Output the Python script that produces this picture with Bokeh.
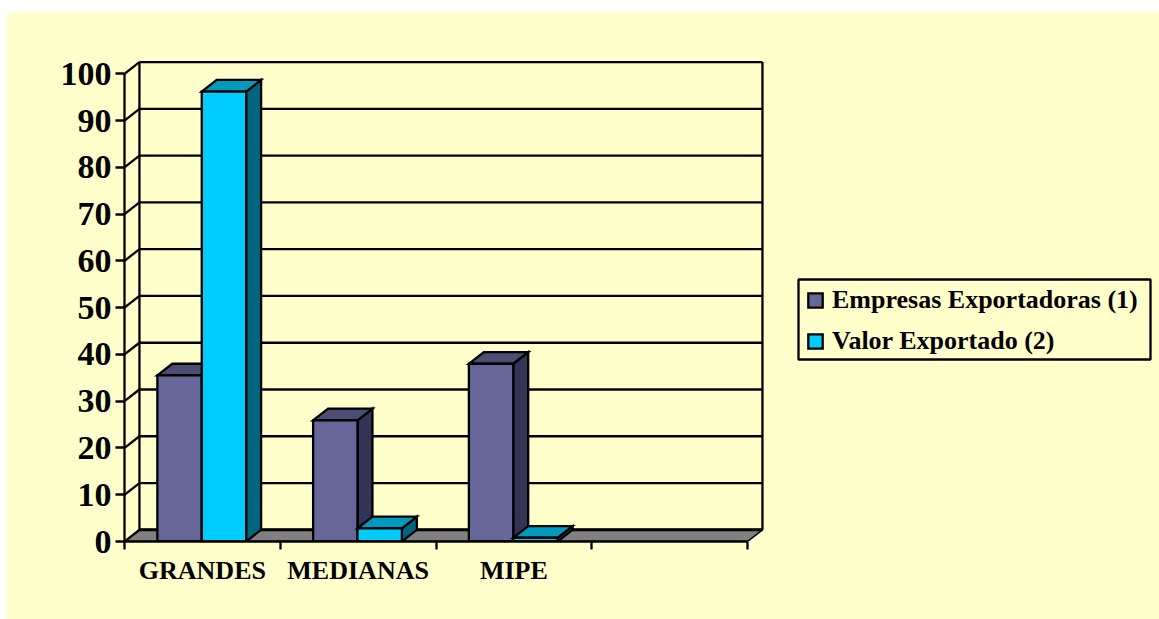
from bokeh.plotting import figure
from bokeh.models import Range1d, FixedTicker, Legend, LegendItem, BoxAnnotation
from bokeh.embed import file_html
from bokeh.resources import INLINE

categories = ["GRANDES", "MEDIANAS", "MIPE"]
empresas = [35.5, 25.9, 38.0]
valor = [96.2, 2.8, 0.8]
y_ticks = [0, 10, 20, 30, 40, 50, 60, 70, 80, 90, 100]
series_names = ["Empresas Exportadoras (1)", "Valor Exportado (2)"]

DX, DY = 0.096, 2.5          # depth of the 3-D box in data units
BAR = 0.285
N_SLOTS = 4
LW = 2.3
YELLOW = "#FFFFCC"
FONT = "Liberation Serif"

p = figure(width=1153, height=608, output_backend="svg", toolbar_location=None,
           x_range=Range1d(0, 1035 / 155.75), y_range=Range1d(0, 482 / 4.677),
           frame_width=1035, frame_height=482,
           min_border_left=118, min_border_right=0, min_border_top=48, min_border_bottom=78,
           background_fill_color=YELLOW, border_fill_color=YELLOW, outline_line_color=None)
p.margin = (11, 0, 0, 6)
p.grid.visible = False

# floor
p.patch([0, N_SLOTS, N_SLOTS + DX, DX], [0, 0, DY, DY], fill_color="#808080",
        line_color="black", line_width=1.5)
# back wall lines
p.segment([DX] * len(y_ticks), [t + DY for t in y_ticks],
          [N_SLOTS + DX] * len(y_ticks), [t + DY for t in y_ticks],
          line_color="black", line_width=LW)
p.segment([DX], [DY], [N_SLOTS + DX], [DY], line_color="black", line_width=3)
# left wall diagonals, verticals
p.segment([0] * len(y_ticks), y_ticks, [DX] * len(y_ticks), [t + DY for t in y_ticks],
          line_color="black", line_width=LW)
p.segment([DX, N_SLOTS + DX], [DY, DY], [DX, N_SLOTS + DX], [y_ticks[-1] + DY] * 2,
          line_color="black", line_width=LW)


def draw_series(values, offset, front, side, top):
    xs_f, ys_f, xs_s, ys_s, xs_t, ys_t = [], [], [], [], [], []
    for i, v in enumerate(values):
        x0 = i + 0.496 + offset
        x1 = x0 + BAR
        xs_f.append([x0, x1, x1, x0]); ys_f.append([0, 0, v, v])
        xs_s.append([x1, x1 + DX, x1 + DX, x1]); ys_s.append([0, DY, v + DY, v])
        xs_t.append([x0, x1, x1 + DX, x0 + DX]); ys_t.append([v, v, v + DY, v + DY])
    kw = dict(line_color="black", line_width=LW, line_join="miter")
    rs = []
    for i in range(len(values)):
        p.patches([xs_s[i]], [ys_s[i]], fill_color=side, **kw)
        p.patches([xs_t[i]], [ys_t[i]], fill_color=top, **kw)
        rs.append(p.patches([xs_f[i]], [ys_f[i]], fill_color=front, **kw))
    return rs[0]


r1 = draw_series(empresas, -BAR, "#666699", "#333355", "#4D4D73")
r2 = draw_series(valor, 0, "#00CCFF", "#006680", "#0099BF")

# axes
yax = p.yaxis[0]
yax.ticker = FixedTicker(ticks=y_ticks)
yax.bounds = (0, 100)
yax.axis_line_width = LW
yax.major_tick_line_width = LW
yax.major_tick_in = 0
yax.major_tick_out = 9
yax.minor_tick_line_color = None
yax.major_label_standoff = 4
yax.major_label_text_font = FONT
yax.major_label_text_font_style = "bold"
yax.major_label_text_font_size = "34px"
yax.major_label_text_color = "black"

xax = p.xaxis[0]
centers = [i + 0.5 for i in range(len(categories))]
xax.ticker = FixedTicker(ticks=centers, minor_ticks=list(range(N_SLOTS + 1)))
xax.major_label_overrides = {c: n for c, n in zip(centers, categories)}
xax.bounds = (0, N_SLOTS)
xax.axis_line_width = LW
xax.major_tick_line_color = None
xax.major_tick_in = 0
xax.major_tick_out = 0
xax.minor_tick_line_width = LW
xax.minor_tick_in = 0
xax.minor_tick_out = 8
xax.major_label_standoff = 6
xax.major_label_text_font = FONT
xax.major_label_text_font_style = "bold"
xax.major_label_text_font_size = "26px"
xax.major_label_text_color = "black"

# legend frame (pixels from the plot frame's lower left corner), legend's own border off
p.add_layout(BoxAnnotation(left=674, right=1026, top=262, bottom=182,
                           left_units="screen", right_units="screen",
                           top_units="screen", bottom_units="screen",
                           fill_alpha=0, line_color="black", line_alpha=1, line_width=LW))

legend = Legend(items=[LegendItem(label=series_names[0], renderers=[r1]),
                       LegendItem(label=series_names[1], renderers=[r2])],
                location=(682, 185), orientation="vertical",
                background_fill_alpha=0, border_line_color=None,
                glyph_width=18, glyph_height=18, label_standoff=8,
                label_text_font=FONT, label_text_font_style="bold",
                label_text_font_size="26px", label_text_color="black",
                padding=9, spacing=11, margin=0)
p.add_layout(legend, "center")

open("out.html", "w").write(file_html(p, INLINE))
